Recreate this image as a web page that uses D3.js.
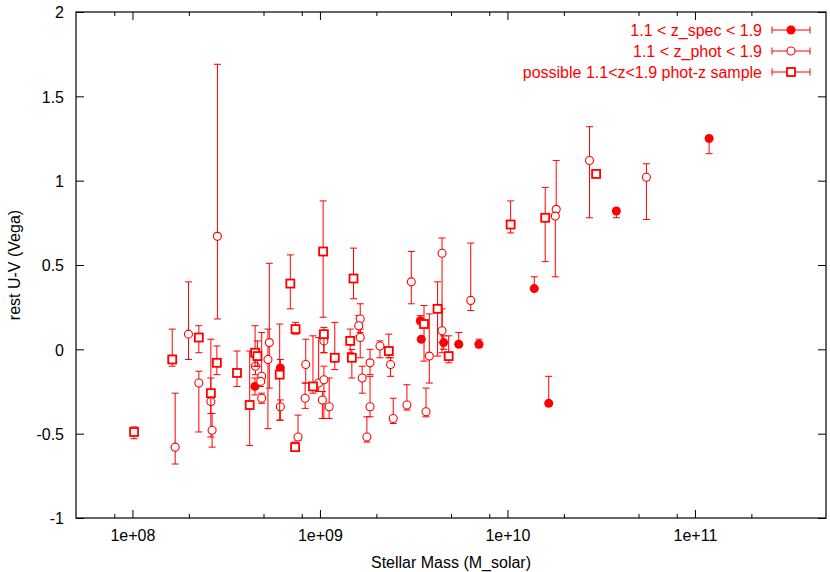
<!DOCTYPE html>
<html>
<head>
<meta charset="utf-8">
<script src="https://cdn.jsdelivr.net/npm/d3@7"></script>
<style>
  body { margin: 0; background: #fff; }
  svg { display: block; font-family: "Liberation Sans", Arial, sans-serif; }
  .lbl { font-size: 16px; fill: #000; }
  .leg { font-size: 16px; fill: #ff0000; }
</style>
</head>
<body>
<svg id="chart"></svg>
<script>
// 1.1 < z_spec < 1.9  (filled circles)
var specMass = [4.5e8, 6.15e8, 3.43e9, 3.47e9, 4.57e9, 5.5e9, 7.05e9, 1.39e10, 1.66e10, 3.81e10, 1.19e11];
var specUV   = [-0.22, -0.11, 0.17, 0.06, 0.04, 0.03, 0.03, 0.36, -0.32, 0.82, 1.25];
var specLo   = [-0.27, -0.13, 0.15, 0.05, 0.00, 0.03, 0.01, 0.36, -0.32, 0.78, 1.16];
var specHi   = [-0.17, -0.06, 0.20, 0.07, 0.08, 0.10, 0.06, 0.43, -0.16, 0.83, 1.25];

// 1.1 < z_phot < 1.9  (open circles)
var photMass = [1.69e8, 1.99e8, 2.84e8, 2.26e8, 2.62e8, 2.66e8, 4.53e8, 4.89e8, 4.83e8, 4.89e8,
                5.37e8, 5.28e8, 6.15e8, 7.64e8, 8.4e8, 8.34e8, 9.84e8, 1.05e9, 1.03e9, 1.12e9,
                1.05e9, 1.64e9, 1.61e9, 1.64e9, 1.68e9, 1.85e9, 1.85e9, 1.78e9, 2.09e9, 2.38e9,
                2.46e9, 2.91e9, 3.07e9, 3.68e9, 3.83e9, 4.48e9, 4.48e9, 6.37e9, 1.82e10, 1.80e10,
                2.74e10, 5.51e10];
var photUV   = [-0.58, 0.09, 0.67, -0.20, -0.31, -0.48, -0.10, -0.16, -0.19, -0.29,
                0.04, -0.06, -0.34, -0.52, -0.09, -0.29, -0.20, -0.18, -0.30, -0.34,
                0.05, 0.18, 0.14, 0.07, -0.17, -0.08, -0.34, -0.52, 0.02, -0.09,
                -0.41, -0.33, 0.40, -0.37, -0.04, 0.57, 0.11, 0.29, 0.83, 0.79,
                1.12, 1.02];
var photLo   = [-0.68, -0.06, 0.18, -0.49, -0.52, -0.58, -0.15, -0.20, -0.22, -0.32,
                -0.23, -0.47, -0.42, -0.54, -0.20, -0.35, -0.25, -0.41, -0.41, -0.41,
                -0.02, 0.10, 0.08, -0.05, -0.26, -0.15, -0.40, -0.55, -0.05, -0.16,
                -0.44, -0.36, 0.27, -0.40, -0.20, 0.04, -0.02, 0.23, 0.83, 0.43,
                0.78, 0.77];
var photHi   = [-0.26, 0.40, 1.69, -0.13, -0.17, -0.38, -0.05, 0.10, -0.16, -0.26,
                0.51, 0.12, -0.30, -0.39, 0.06, -0.20, 0.07, -0.10, -0.25, -0.17,
                0.10, 0.27, 0.20, 0.12, -0.10, 0.00, -0.16, -0.40, 0.05, -0.05,
                -0.29, -0.21, 0.58, -0.23, 0.21, 0.66, 0.24, 0.63, 1.12, 0.79,
                1.32, 1.10];

// possible 1.1<z<1.9 phot-z sample  (open squares)
var possMass = [1.02e8, 1.63e8, 2.26e8, 2.62e8, 2.82e8, 3.61e8, 4.22e8, 4.51e8, 4.64e8, 6.1e8,
                6.95e8, 7.41e8, 7.37e8, 9.18e8, 1.04e9, 1.05e9, 1.2e9, 1.51e9, 1.45e9, 1.48e9,
                2.33e9, 3.59e9, 4.24e9, 4.86e9, 1.04e10, 1.59e10, 2.97e10];
var possUV   = [-0.49, -0.06, 0.07, -0.26, -0.08, -0.14, -0.33, -0.02, -0.04, -0.15,
                0.39, 0.12, -0.58, -0.22, 0.58, 0.09, -0.05, 0.42, 0.05, -0.05,
                -0.01, 0.15, 0.24, -0.04, 0.74, 0.78, 1.04];
var possLo   = [-0.53, -0.10, -0.02, -0.38, -0.15, -0.22, -0.57, -0.10, -0.10, -0.42,
                0.24, 0.09, -0.59, -0.26, 0.19, -0.02, -0.12, 0.30, -0.02, -0.17,
                -0.05, -0.07, -0.04, -0.08, 0.69, 0.52, 1.03];
var possHi   = [-0.46, 0.12, 0.14, 0.06, 0.02, -0.01, -0.01, 0.14, 0.05, 0.15,
                0.56, 0.16, -0.55, 0.08, 0.88, 0.13, 0.16, 0.60, 0.12, 0.00,
                0.09, 0.26, 0.40, 0.08, 0.88, 0.96, 1.05];

var xMajor = [1e8, 1e9, 1e10, 1e11];
var xMinor = [8e7, 2e8, 5e8, 8e8, 2e9, 5e9, 8e9, 2e10, 5e10, 8e10, 2e11];
var yTicks = [-1, -0.5, 0, 0.5, 1, 1.5, 2];

var W = 830, H = 572;
var pLeft = 76, pRight = 826, pTop = 12, pBottom = 518;
var red = "#ff0000";

var svg = d3.select("#chart").attr("width", W).attr("height", H);

var x = d3.scaleLog().domain([5e7, 5e11]).range([pLeft, pRight]);
var y = d3.scaleLinear().domain([-1, 2]).range([pBottom, pTop]);

function expFmt(v) {
  var e = Math.round(Math.log10(v));
  return "1e+" + (e < 10 ? "0" + e : e);
}
function numFmt(v) { return String(v); }

// axes, ticks pointing inwards like gnuplot
svg.append("g").attr("transform", "translate(0," + pBottom + ")")
  .call(d3.axisBottom(x).tickValues(xMajor).tickFormat(expFmt).tickSize(-8).tickPadding(12).tickSizeOuter(0));
svg.append("g").attr("transform", "translate(0," + pBottom + ")")
  .call(d3.axisBottom(x).tickValues(xMinor).tickFormat("").tickSize(-4).tickSizeOuter(0));
svg.append("g").attr("transform", "translate(0," + pTop + ")")
  .call(d3.axisTop(x).tickValues(xMajor).tickFormat("").tickSize(-8).tickSizeOuter(0));
svg.append("g").attr("transform", "translate(0," + pTop + ")")
  .call(d3.axisTop(x).tickValues(xMinor).tickFormat("").tickSize(-4).tickSizeOuter(0));

var gy = svg.append("g").attr("transform", "translate(" + pLeft + ",0)")
  .call(d3.axisLeft(y).tickValues(yTicks).tickFormat(numFmt).tickSize(-8).tickPadding(12).tickSizeOuter(0));
svg.append("g").attr("transform", "translate(" + pRight + ",0)")
  .call(d3.axisRight(y).tickValues(yTicks).tickFormat("").tickSize(-8).tickSizeOuter(0));

svg.selectAll(".domain").remove();
svg.selectAll(".tick line").attr("stroke", "#000");
svg.selectAll(".tick text").attr("class", "lbl");
gy.selectAll(".tick text").attr("dy", "0.36em");

svg.append("rect").attr("x", pLeft).attr("y", pTop)
  .attr("width", pRight - pLeft).attr("height", pBottom - pTop)
  .attr("fill", "none").attr("stroke", "#000").attr("stroke-width", 1.2);

svg.append("text").attr("class", "lbl").attr("x", 451).attr("y", 568)
  .attr("text-anchor", "middle").text("Stellar Mass (M_solar)");
svg.append("text").attr("class", "lbl")
  .attr("transform", "translate(20,265) rotate(-90)")
  .attr("text-anchor", "middle").text("rest U-V (Vega)");

function errBars(mass, lo, hi) {
  var g = svg.append("g").attr("stroke", red).attr("stroke-width", 1);
  mass.forEach(function(m, i) {
    var cx = x(m);
    g.append("line").attr("x1", cx).attr("x2", cx).attr("y1", y(lo[i])).attr("y2", y(hi[i]));
    g.append("line").attr("x1", cx - 3.5).attr("x2", cx + 3.5).attr("y1", y(lo[i])).attr("y2", y(lo[i]));
    g.append("line").attr("x1", cx - 3.5).attr("x2", cx + 3.5).attr("y1", y(hi[i])).attr("y2", y(hi[i]));
  });
}

function marker(g, kind, cx, cy) {
  if (kind === "square") {
    g.append("rect").attr("x", cx - 4).attr("y", cy - 4).attr("width", 8).attr("height", 8)
      .attr("fill", "#fff").attr("stroke", red).attr("stroke-width", 1.8);
  } else if (kind === "open") {
    g.append("circle").attr("cx", cx).attr("cy", cy).attr("r", 4)
      .attr("fill", "#fff").attr("stroke", red).attr("stroke-width", 1.1);
  } else {
    g.append("circle").attr("cx", cx).attr("cy", cy).attr("r", 4.5).attr("fill", red);
  }
}

function series(mass, uv, lo, hi, kind) {
  errBars(mass, lo, hi);
  var g = svg.append("g");
  mass.forEach(function(m, i) { marker(g, kind, x(m), y(uv[i])); });
}

series(specMass, specUV, specLo, specHi, "filled");
series(photMass, photUV, photLo, photHi, "open");
series(possMass, possUV, possLo, possHi, "square");

// legend
var legendNames = ["1.1 < z_spec < 1.9", "1.1 < z_phot < 1.9", "possible 1.1<z<1.9 phot-z sample"];
var legendKinds = ["filled", "open", "square"];
var lg = svg.append("g");
legendNames.forEach(function(name, i) {
  var ly = 30 + i * 21;
  lg.append("text").attr("class", "leg").attr("x", 762).attr("y", ly).attr("dy", "0.36em")
    .attr("text-anchor", "end").text(name);
  var l = lg.append("g").attr("stroke", red).attr("stroke-width", 1);
  l.append("line").attr("x1", 772).attr("x2", 810).attr("y1", ly).attr("y2", ly);
  l.append("line").attr("x1", 772).attr("x2", 772).attr("y1", ly - 3.5).attr("y2", ly + 3.5);
  l.append("line").attr("x1", 810).attr("x2", 810).attr("y1", ly - 3.5).attr("y2", ly + 3.5);
  marker(lg, legendKinds[i], 791, ly);
});
</script>
</body>
</html>
